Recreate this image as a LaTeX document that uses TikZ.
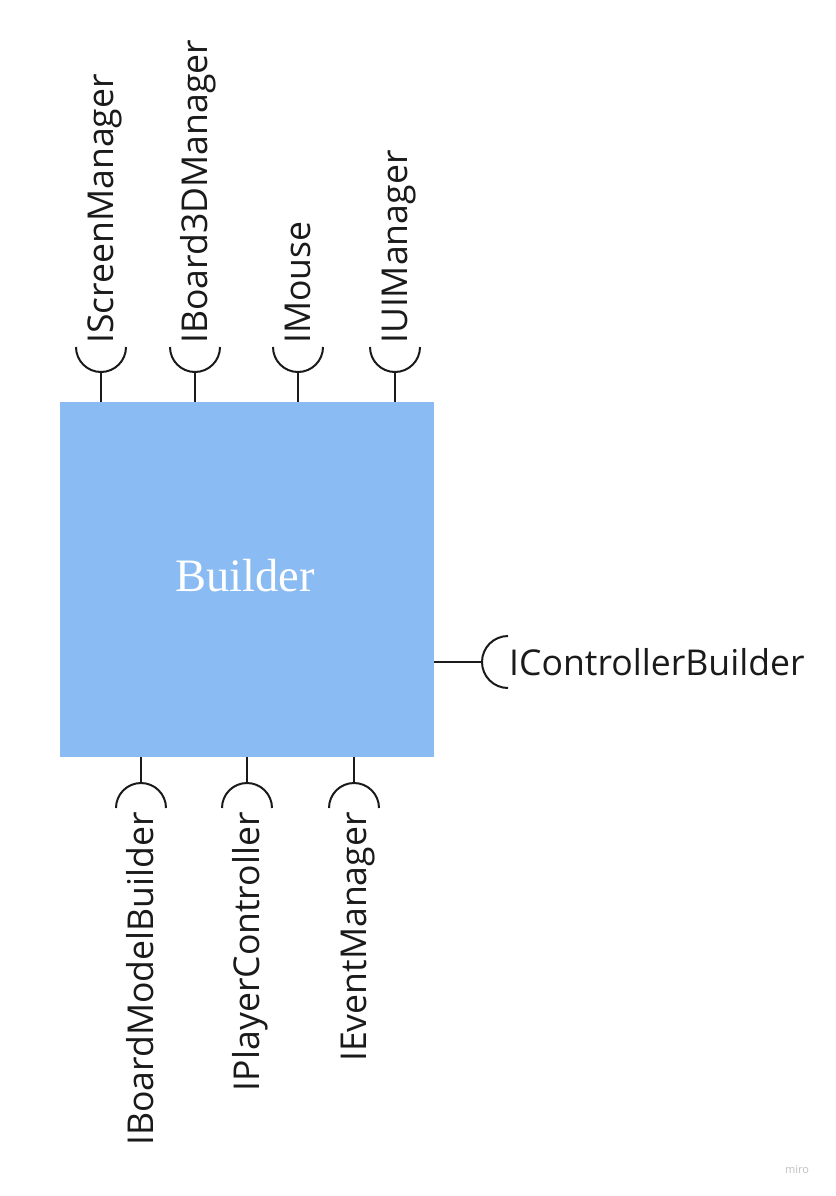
\documentclass[tikz,border=0pt]{standalone}
\usepackage{fontspec}
\setmainfont{Open Sans}
\newfontfamily\serifB{Liberation Serif}
\definecolor{boxblue}{RGB}{138,187,243}
\definecolor{ink}{RGB}{26,26,26}
\tikzset{
  lbl/.style={inner sep=0pt, text=ink, font=\fontsize{35.6}{42}\selectfont, rotate=90},
  hlbl/.style={inner sep=0pt, text=ink, font=\fontsize{35.6}{42}\selectfont},
  conn/.style={draw=ink, line width=2pt},
}
\begin{document}
\begin{tikzpicture}[x=1pt,y=1pt]
\useasboundingbox (0,0) rectangle (835,-1196);
\node[fill=boxblue, minimum width=374pt, minimum height=355pt, inner sep=0pt] (builder) at (247,-579.5) {};
\node[font=\serifB\fontsize{46.5}{52}\selectfont, text=white, inner sep=0pt, anchor=base] (btxt) at (245,-591) {Builder};
% top sockets
\foreach \n/\sx in {s1/101, s2/195, s3/298, s4/395}{
  \coordinate (\n) at (\sx,-372);
  \draw[conn] (builder.north -| \n) -- (\n);
  \draw[conn] (\sx-25,-347) arc (180:360:25);
}
\node[lbl, anchor=base west] (l1) at (113.5,-344) {IScreenManager};
\node[lbl, anchor=base west] (l2) at (207.5,-344) {IBoard3DManager};
\node[lbl, anchor=base west] (l3) at (310.5,-344) {IMouse};
\node[lbl, anchor=base west] (l4) at (407.5,-344) {IUIManager};
% bottom sockets
\foreach \n/\sx in {b1/141, b2/247, b3/354}{
  \coordinate (\n) at (\sx,-783);
  \draw[conn] (builder.south -| \n) -- (\n);
  \draw[conn] (\sx-25,-808) arc (180:0:25);
}
\node[lbl, anchor=base east] (m1) at (153.5,-812) {IBoardModelBuilder};
\node[lbl, anchor=base east] (m2) at (259.5,-812) {IPlayerController};
\node[lbl, anchor=base east] (m3) at (366.5,-812) {IEventManager};
% right socket
\coordinate (r1) at (482,-662);
\draw[conn] (builder.east |- r1) -- (r1);
\draw[conn] (508,-636) arc (90:270:26);
\node[hlbl, anchor=base west] (rl) at (509,-675) {IControllerBuilder};
% watermark
\node[inner sep=0pt, text=black!25, font=\fontsize{11}{13}\selectfont] (miro) at (797,-1170) {miro};
\end{tikzpicture}
\end{document}
